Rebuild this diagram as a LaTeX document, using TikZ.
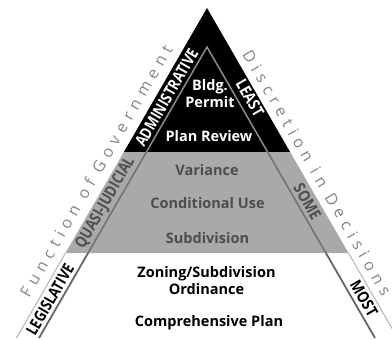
\documentclass[tikz,border=0pt]{standalone}
\usepackage{fontspec}
\setmainfont{Open Sans}
\definecolor{midgray}{HTML}{A9A9A9}
\definecolor{darktext}{HTML}{4D4D4D}
\definecolor{outergray}{HTML}{858585}
\definecolor{lineblack}{HTML}{8C8C8C}
\definecolor{linegray}{HTML}{707070}
\definecolor{linewhite}{HTML}{666666}
\definecolor{edgewhite}{HTML}{B4B4B4}
\begin{document}
\begin{tikzpicture}[x=1pt,y=-1pt,
  ctext/.style={font=\fontsize{14.5}{17}\selectfont\bfseries, align=center, inner sep=0pt},
  band/.style={font=\fontsize{16}{16}\selectfont\bfseries, inner sep=0pt},
  outertext/.style={font=\fontsize{16}{16}\selectfont\addfontfeatures{LetterSpace=35}, text=outergray, inner sep=0pt}]
\useasboundingbox (0,0) rectangle (392,340);
% outer corners
\coordinate (A) at (207,8);
\coordinate (BL) at (123.9,152);
\coordinate (BR) at (290.1,152);
\coordinate (GL) at (65.5,253);
\coordinate (GR) at (348.5,253);
\coordinate (WL) at (16.5,338);
\coordinate (WR) at (397.5,338);
% inner line points
\coordinate (IA) at (207,47);
\coordinate (IBL) at (146.4,152);
\coordinate (IBR) at (267.6,152);
\coordinate (IGL) at (88.1,253);
\coordinate (IGR) at (325.9,253);
\coordinate (IWL) at (39,338);
\coordinate (IWR) at (375,338);
% fills
\fill[black] (A) -- (BL) -- (BR) -- cycle;
\fill[midgray] (BL) -- (BR) -- (GR) -- (GL) -- cycle;
% white region outer edges
\draw[edgewhite, line width=1pt] (GL) -- (WL);
\draw[edgewhite, line width=1pt] (GR) -- (WR);
% inner lines
\draw[lineblack, line width=1.5pt] (IBL) -- (IA) -- (IBR);
\draw[linegray, line width=1.5pt] (IBL) -- (IGL);
\draw[linegray, line width=1.5pt] (IBR) -- (IGR);
\draw[linewhite, line width=1.8pt] (IGL) -- (IWL);
\draw[linewhite, line width=1.8pt] (IGR) -- (IWR);
% centre texts
\node[ctext, text=white] (bldg) at (210,94) {Bldg.\\Permit};
\node[ctext, text=white] (plan) at (209,136) {Plan Review};
\node[ctext, text=darktext] (var) at (207,170) {Variance};
\node[ctext, text=darktext] (cond) at (207.5,203) {Conditional Use};
\node[ctext, text=darktext] (subd) at (207.5,238) {Subdivision};
\node[ctext, text=black] (zon) at (206.5,281) {Zoning/Subdivision\\Ordinance};
\node[ctext, text=black] (comp) at (209,323) {Comprehensive Plan};
% band labels
\node[band, text=white, rotate=60] (adm) at (166.6,97.5) {\scalebox{0.82}[1]{ADMINISTRATIVE}};
\node[band, text=darktext, rotate=60] (quasi) at (105.7,203) {\scalebox{0.82}[1]{QUASI-JUDICIAL}};
\node[band, text=black, rotate=60] (leg) at (50,299.5) {\scalebox{0.82}[1]{LEGISLATIVE}};
\node[band, text=white, rotate=-60] (least) at (250,98) {\scalebox{0.85}[1]{LEAST}};
\node[band, text=darktext, rotate=-60] (some) at (307.5,201.5) {\scalebox{0.85}[1]{SOME}};
\node[band, text=black, rotate=-60] (most) at (364,298.5) {\scalebox{0.85}[1]{MOST}};
% outer texts
\node[outertext, rotate=60] (func) at (96,171) {Function of Government};
\node[outertext, rotate=-60] (disc) at (317,173) {Discretion in Decisions};
\end{tikzpicture}
\end{document}
